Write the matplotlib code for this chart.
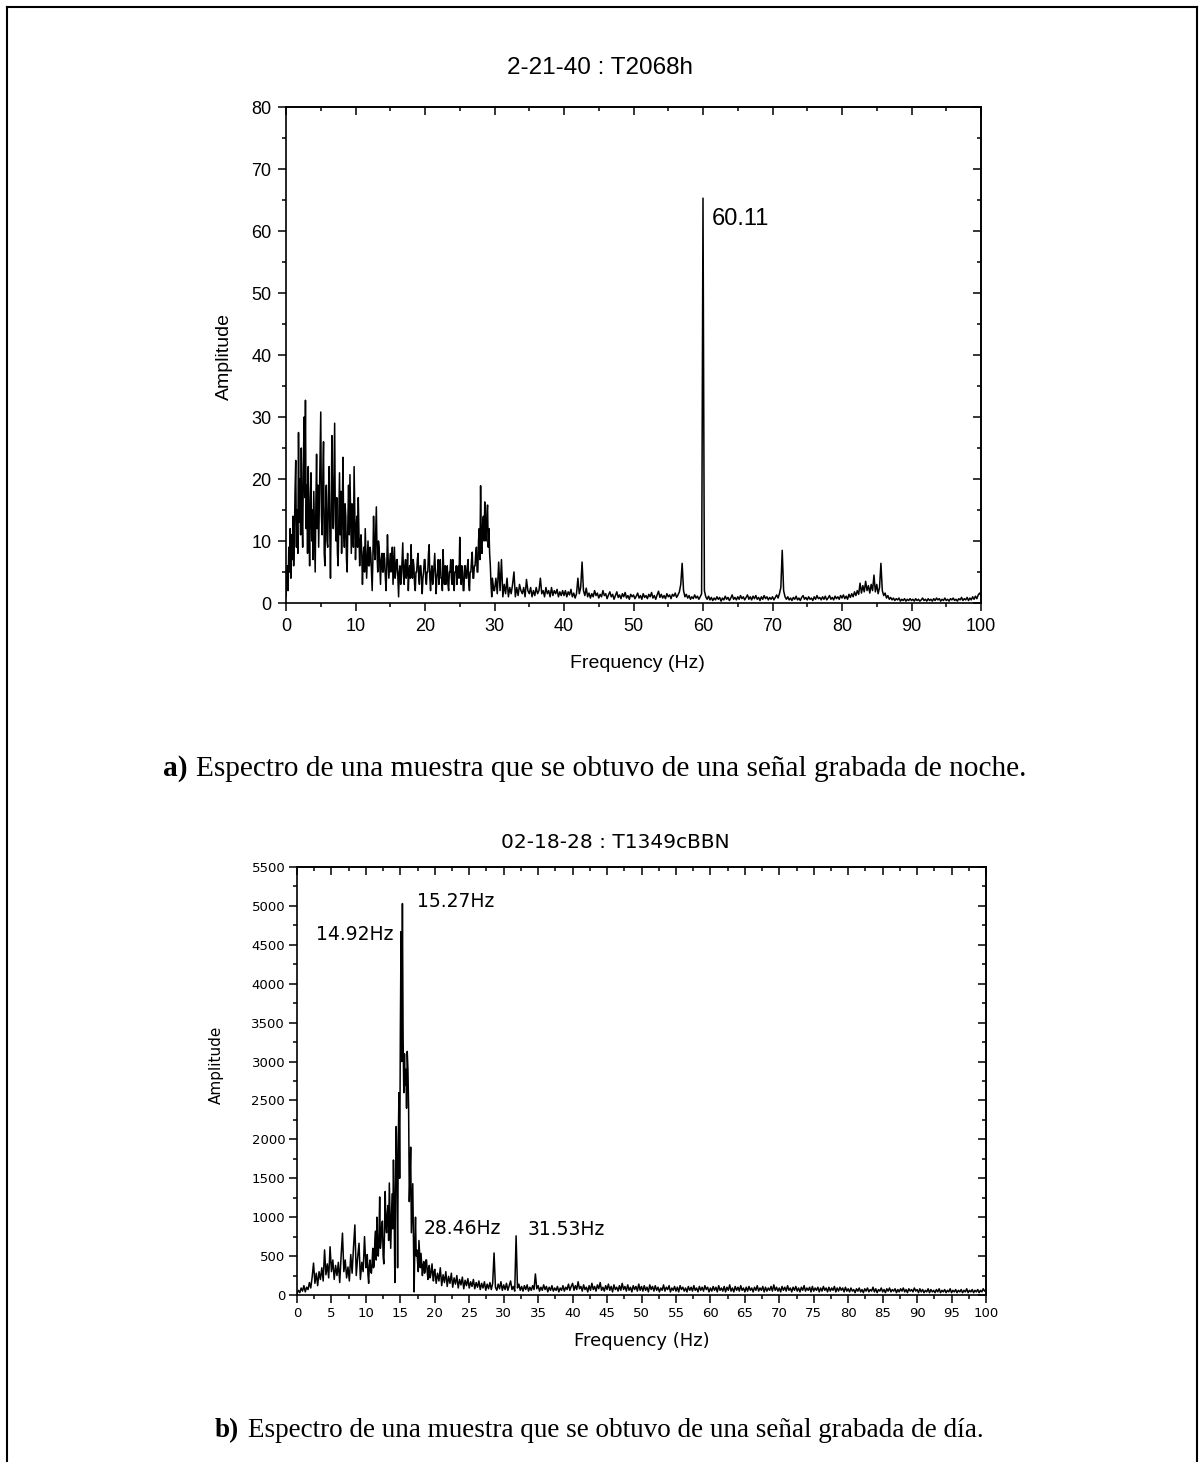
import numpy as np
import matplotlib
matplotlib.use("Agg")
import matplotlib.pyplot as plt
from matplotlib.ticker import MultipleLocator
from matplotlib.lines import Line2D

# spectra in 10 Hz bands; busy bands every 0.1 Hz, quiet ones every 0.2 Hz

# ---- a) night recording, 2-21-40 : T2068h
amp_a_00 = [1, 3, 6, 2, 9, 5, 12, 4, 11, 7,
            14, 6, 10, 18, 23, 9, 15, 8, 27.5, 13,
            20, 11, 25, 14, 9, 22, 30, 17, 32.7, 12,
            19, 8, 22, 13, 6, 17, 21, 10, 15, 7,
            18, 11, 5, 16, 24, 12, 19, 9, 16, 22,
            30.8, 14, 11, 20, 26, 8, 6, 15, 19, 10,
            9, 17, 22, 12, 4, 14, 27, 16, 12, 21,
            29, 13, 10, 17, 8, 6, 14, 21, 11, 18,
            8, 15, 23.5, 12, 9, 16, 14, 7, 5, 13,
            19, 11, 20.7, 14, 8, 16, 13, 9, 22, 15]
amp_a_10 = [7, 12, 14, 9, 17, 11, 6, 10, 11, 8,
            3, 7, 9, 5, 12, 8, 4, 7, 10, 6,
            6, 9, 8, 5, 2, 7, 14, 9, 7, 11,
            15.5, 8, 5, 10, 9, 6, 3, 7, 8, 5,
            5, 8, 7, 4, 2, 6, 11, 7, 4, 6,
            8, 5, 6, 9, 3, 6, 9, 4, 5, 7,
            7, 4, 1, 5, 6, 3, 4, 7, 9.7, 5,
            3, 6, 7, 4, 5, 8, 2, 5, 6, 4,
            9.4, 5, 4, 7, 6, 3, 2, 5, 5, 7,
            8, 4, 3, 6, 6, 4, 1.5, 4, 5, 7]
amp_a_20 = [7, 4, 3, 5, 5, 8, 9.4, 4, 2, 5,
            6, 3, 4, 6, 8, 5, 1.5, 4, 5, 7,
            3, 6, 7, 4, 4, 2, 8.6, 5, 3, 6,
            3, 5, 6, 3, 2, 5, 5, 7, 4, 3,
            7, 4, 2, 5, 5, 6, 3, 5, 6, 4,
            10.6, 5, 3, 6, 5, 2, 2, 6, 6, 4,
            4, 6, 7, 3, 2, 5, 5, 7, 8.2, 4,
            4, 6, 6, 8, 9, 5, 5, 10, 12, 7,
            18.9, 9, 8, 13, 14, 10, 16.3, 11, 10, 14,
            15.8, 9, 12, 8, 6, 3, 1, 4, 3, 2]
amp_a_30 = [2, 4, 1.5, 6.6, 2, 7, 1, 3, 1.5, 4,
            1, 2.5, 1.5, 3, 5, 1, 2.5, 1.2, 3, 2,
            1.5, 2.5, 1, 3.8, 2, 1.5, 2.5, 1, 2, 1.2,
            2.5, 1.5, 2, 4, 1.5, 2, 1, 2.5, 1.5, 2,
            1, 2.5, 1.2, 2, 1.5, 2.2, 1, 1.8, 1.2, 2]
amp_a_40 = [1.2, 2, 1, 1.8, 1.3, 2.2, 1, 1.6, 0.8, 1.5,
            4.0, 1.5, 2.5, 6.6, 2, 1.2, 2.4, 1, 1.6, 0.8,
            1.5, 1, 2, 1.2, 1.6, 0.8, 1.4, 1, 2, 1.2,
            1.5, 0.7, 1.3, 1.8, 1, 1.4, 0.6, 1.2, 1.8, 0.9,
            1.3, 0.7, 1.5, 1, 1.7, 0.8, 1.2, 0.6, 1.4, 1]
amp_a_50 = [1.3, 0.7, 1.1, 1.6, 0.8, 1.2, 0.6, 1.5, 0.9, 1.2,
            0.7, 1.4, 1, 1.7, 0.8, 1.2, 0.6, 1.3, 1.9, 0.9,
            1.4, 0.8, 1.2, 0.7, 1.5, 1, 1.3, 0.7, 1.4, 1.1,
            1.6, 0.9, 1.3, 1.8, 3, 6.4, 2, 1, 1.4, 0.8,
            1.2, 0.6, 1, 0.7, 1.3, 0.8, 1.1, 0.6, 1, 1.5]
amp_a_60 = [65.3, 2, 1, 0.6, 1.1, 0.5, 0.9, 0.4, 0.8, 0.5,
            1, 0.6, 0.9, 0.3, 0.8, 0.5, 1.1, 0.6, 0.9, 0.4,
            0.8, 1.3, 0.6, 0.9, 0.5, 1, 0.6, 1.2, 0.7, 1,
            0.5, 0.9, 1.3, 0.6, 1, 0.5, 1.1, 0.7, 1.2, 0.6,
            0.9, 0.4, 1, 0.6, 1.2, 0.7, 1, 0.5, 0.9, 0.6]
amp_a_70 = [1, 0.5, 0.9, 1.3, 0.8, 1.5, 2.5, 8.5, 2, 1,
            0.6, 1, 0.5, 0.8, 0.4, 0.9, 0.6, 1.1, 0.5, 0.8,
            0.4, 0.9, 1.2, 0.6, 0.9, 0.5, 1, 0.6, 0.8, 0.4,
            1, 0.6, 1.2, 0.7, 0.9, 0.5, 1, 0.6, 1.1, 0.5,
            0.8, 1.2, 0.6, 0.9, 0.5, 1.1, 0.7, 1, 0.6, 1.2]
amp_a_80 = [0.8, 1.3, 0.7, 1.1, 0.6, 1.4, 0.9, 1.5, 1, 1.8,
            1.2, 2, 1.4, 3.2, 1.6, 2.8, 1.8, 3.5, 2, 2.8,
            1.6, 3, 2, 4.5, 1.8, 3, 1.5, 2.5, 6.4, 2,
            1.2, 1.6, 0.8, 1.2, 0.6, 0.9, 0.5, 0.8, 0.4, 0.7,
            0.5, 0.8, 0.3, 0.6, 0.4, 0.7, 0.3, 0.6, 0.4, 0.7]
amp_a_90 = [0.4, 0.6, 0.3, 0.7, 0.4, 0.6, 0.3, 0.5, 0.8, 0.4,
            0.6, 0.3, 0.7, 0.4, 0.6, 0.3, 0.7, 0.4, 0.8, 0.5,
            0.7, 0.3, 0.6, 0.4, 0.8, 0.4, 0.6, 0.3, 0.7, 0.5,
            0.8, 0.4, 0.6, 0.3, 0.7, 0.5, 0.9, 0.4, 0.7, 0.5,
            0.9, 0.4, 0.8, 0.5, 1, 0.6, 1.1, 0.7, 1.3, 1.6,
            1.2]

# ---- b) day recording, 02-18-28 : T1349cBBN
amp_b_00 = [20, 60, 30, 90, 50, 120, 40, 100, 70, 160,
            90, 230, 410, 150, 280, 120, 300, 200, 350, 180,
            580, 260, 400, 220, 620, 300, 450, 200, 380, 250,
            420, 160, 500, 795, 300, 450, 220, 360, 180, 520,
            280, 610, 900, 250, 480, 665, 200, 420, 300, 750]
amp_b_10 = [350, 480, 520, 260, 150, 380, 450, 300, 280, 420,
            600, 350, 380, 700, 820, 450, 1000, 620, 500, 780,
            1260, 600, 700, 900, 950, 500, 400, 800, 1330, 900,
            800, 1050, 1150, 700, 1440, 1000, 600, 950, 1300, 850,
            1735, 1100, 160, 1400, 2165, 1600, 350, 2000, 2600, 1500,
            3385, 4670, 3000, 5030, 3300, 2600, 3100, 2700, 2900, 2400,
            3130, 2900, 2400, 1200, 1520, 1900, 800, 1100, 1430, 700,
            40, 650, 1000, 500, 580, 420, 300, 700, 520, 350,
            535, 400, 250, 380, 430, 280, 300, 450, 450, 300,
            200, 350, 380, 220, 250, 330, 400, 260, 180, 300]
amp_b_20 = [330, 150, 280, 180, 350, 120, 260, 160, 300, 110,
            240, 150, 280, 100, 220, 140, 250, 90, 200, 130,
            230, 80, 190, 120, 210, 90, 170, 110, 200, 80,
            160, 100, 180, 70, 150, 90, 170, 60, 140, 80,
            160, 70, 150, 540, 100, 60, 140, 80, 170, 60]
amp_b_30 = [130, 70, 150, 60, 120, 180, 70, 110, 50, 760,
            90, 140, 60, 110, 50, 120, 70, 130, 50, 100,
            60, 120, 70, 270, 80, 120, 50, 100, 60, 130,
            70, 110, 40, 100, 60, 120, 50, 90, 60, 110,
            40, 90, 60, 120, 50, 100, 70, 140, 60, 110]
amp_b_40 = [150, 60, 120, 70, 170, 80, 110, 50, 130, 70,
            100, 40, 120, 60, 150, 70, 110, 50, 130, 80,
            160, 60, 100, 50, 120, 70, 140, 60, 110, 40,
            130, 70, 100, 50, 120, 60, 150, 70, 110, 50,
            130, 60, 100, 40, 120, 70, 110, 50, 140, 60]
amp_b_50 = [110, 50, 120, 60, 100, 40, 130, 70, 110, 50,
            120, 60, 100, 40, 90, 60, 130, 50, 100, 70,
            120, 40, 90, 60, 110, 50, 100, 40, 120, 70,
            100, 50, 90, 40, 110, 60, 100, 50, 120, 60,
            90, 40, 110, 60, 100, 50, 120, 70, 100, 40]
amp_b_60 = [90, 50, 110, 60, 100, 40, 120, 60, 90, 50,
            110, 40, 100, 60, 130, 50, 90, 40, 110, 60,
            100, 50, 120, 60, 90, 40, 100, 50, 110, 60,
            90, 40, 100, 60, 120, 50, 90, 60, 110, 40,
            100, 50, 90, 60, 110, 50, 130, 60, 100, 50]
amp_b_70 = [90, 40, 110, 60, 100, 50, 120, 60, 90, 40,
            100, 60, 110, 50, 90, 40, 100, 60, 120, 50,
            90, 60, 100, 40, 110, 50, 90, 60, 100, 40,
            90, 50, 110, 60, 90, 40, 100, 50, 90, 60,
            110, 40, 90, 50, 100, 60, 90, 40, 100, 50]
amp_b_80 = [80, 40, 90, 50, 70, 30, 80, 50, 90, 40,
            70, 30, 80, 50, 90, 40, 70, 50, 100, 40,
            80, 30, 70, 50, 90, 40, 70, 30, 80, 50,
            90, 40, 70, 50, 80, 30, 70, 40, 80, 50,
            90, 40, 70, 30, 80, 50, 70, 40, 90, 50]
amp_b_90 = [70, 30, 80, 40, 70, 30, 60, 40, 80, 30,
            70, 40, 60, 30, 70, 40, 80, 30, 60, 40,
            70, 30, 60, 40, 80, 30, 60, 40, 70, 30,
            60, 40, 70, 30, 60, 40, 80, 30, 60, 40,
            70, 30, 60, 40, 70, 30, 60, 40, 80, 50,
            60]

title_a = "2-21-40 : T2068h"
title_b = "02-18-28 : T1349cBBN"
peak_label_a = "60.11"
peak_labels_b = ["15.27Hz", "14.92Hz", "28.46Hz", "31.53Hz"]
caption_a = ("a)", "Espectro de una muestra que se obtuvo de una señal grabada de noche.")
caption_b = ("b)", "Espectro de una muestra que se obtuvo de una señal grabada de día.")


def join_bands(bands):
    # each band starts at a multiple of 10 Hz and holds evenly spaced samples
    freq, amp = [], []
    for start, values in bands:
        step = 0.1 if len(values) == 100 else 0.2
        freq.append(start + np.arange(len(values)) * step)
        amp.append(np.asarray(values, dtype=float))
    return np.concatenate(freq), np.concatenate(amp)


freq_a, amp_a = join_bands([(0, amp_a_00), (10, amp_a_10), (20, amp_a_20),
                            (30, amp_a_30), (40, amp_a_40), (50, amp_a_50),
                            (60, amp_a_60), (70, amp_a_70), (80, amp_a_80),
                            (90, amp_a_90)])
freq_b, amp_b = join_bands([(0, amp_b_00), (10, amp_b_10), (20, amp_b_20),
                            (30, amp_b_30), (40, amp_b_40), (50, amp_b_50),
                            (60, amp_b_60), (70, amp_b_70), (80, amp_b_80),
                            (90, amp_b_90)])

W, H = 1200, 1462
fig = plt.figure(figsize=(W / 100, H / 100), dpi=100)


def px_axes(left, top, right, bottom):
    return fig.add_axes([left / W, 1 - bottom / H, (right - left) / W, (bottom - top) / H])


def style_axes(ax, xmaj, xmin, ymaj, ymin, font, size, pad):
    ax.xaxis.set_major_locator(MultipleLocator(xmaj))
    ax.xaxis.set_minor_locator(MultipleLocator(xmin))
    ax.yaxis.set_major_locator(MultipleLocator(ymaj))
    ax.yaxis.set_minor_locator(MultipleLocator(ymin))
    for s in ax.spines.values():
        s.set_linewidth(1.2)
    ax.tick_params(which="both", direction="out", width=1.1, top=False, right=False)
    ax.tick_params(which="major", length=5.5, pad=pad)
    ax.tick_params(which="minor", length=3)
    for lab in ax.get_xticklabels() + ax.get_yticklabels():
        lab.set_fontfamily(font)
        lab.set_fontsize(size)
    # mirrored ticks on top/right point inwards
    top = ax.secondary_xaxis("top")
    right = ax.secondary_yaxis("right")
    for sec, axis in ((top, top.xaxis), (right, right.yaxis)):
        axis.set_major_locator(MultipleLocator(xmaj if sec is top else ymaj))
        axis.set_minor_locator(MultipleLocator(xmin if sec is top else ymin))
        sec.tick_params(which="both", direction="in", width=1.1,
                        labeltop=False, labelright=False)
        sec.tick_params(which="major", length=5.5)
        sec.tick_params(which="minor", length=3)
        for s in sec.spines.values():
            s.set_linewidth(1.2)


# ---- panel a
sans_a = "Liberation Sans"
ax1 = px_axes(286, 107, 981, 603)
ax1.plot(freq_a, amp_a, color="black", lw=1.1)
ax1.set_xlim(0, 100)
ax1.set_ylim(0, 80)
style_axes(ax1, 10, 5, 10, 5, sans_a, 13, 5)
ax1.set_xlabel("Frequency (Hz)", fontfamily=sans_a, fontsize=14)
ax1.set_ylabel("Amplitude", fontfamily=sans_a, fontsize=14)
ax1.xaxis.set_label_coords(0.506, -0.105)
ax1.yaxis.set_label_coords(-0.076, 0.496)
fig.text(600 / W, 1 - 68 / H, title_a, ha="center", va="center",
         fontfamily=sans_a, fontsize=17.5)
ax1.text(61.3, 61.0, peak_label_a, fontfamily=sans_a, fontsize=17, va="baseline")

# ---- panel b
sans_b = "DejaVu Sans"
ax2 = px_axes(297, 867, 986, 1295)
ax2.plot(freq_b, amp_b, color="black", lw=1.1)
ax2.set_xlim(0, 100)
ax2.set_ylim(0, 5500)
style_axes(ax2, 5, 2.5, 500, 250, sans_b, 9.5, 3)
ax2.set_xlabel("Frequency (Hz)", fontfamily=sans_b, fontsize=13)
ax2.set_ylabel("Amplitude", fontfamily=sans_b, fontsize=11)
ax2.xaxis.set_label_coords(0.50, -0.086)
ax2.yaxis.set_label_coords(-0.106, 0.537)
fig.text(615 / W, 1 - 843 / H, title_b, ha="center", va="center",
         fontfamily=sans_b, fontsize=14.5)
lab_pos_b = [(17.4, 4980, "left"), (14.0, 4560, "right"),
             (18.4, 790, "left"), (33.4, 770, "left")]
for text, (x, y, ha) in zip(peak_labels_b, lab_pos_b):
    ax2.text(x, y, text, fontfamily=sans_b, fontsize=13.5, ha=ha, va="baseline")


# ---- captions (bold letter + plain sentence)
def caption(x_px, base_px, parts, size):
    t = fig.text(x_px / W, 1 - base_px / H, parts[0], fontfamily="Liberation Serif",
                 fontsize=size, fontweight="bold", va="baseline", ha="left")
    fig.texts.append(plt.Annotation(parts[1], xy=(1, 0), xycoords=t,
                                    xytext=(6, 0), textcoords="offset points",
                                    fontfamily="Liberation Serif", fontsize=size,
                                    va="bottom", ha="left"))
    fig.texts[-1].set_figure(fig)


caption(163, 776, caption_a, 21.2)
caption(215, 1437, caption_b, 19.5)

# page frame from the scan
for xs, ys in (([7, 7], [7, H]), ([7, 1197], [7, 7]), ([1197, 1197], [7, H])):
    fig.add_artist(Line2D([x / W for x in xs], [1 - y / H for y in ys],
                          color="black", lw=1.5))

fig.savefig("out.png", dpi=100)
